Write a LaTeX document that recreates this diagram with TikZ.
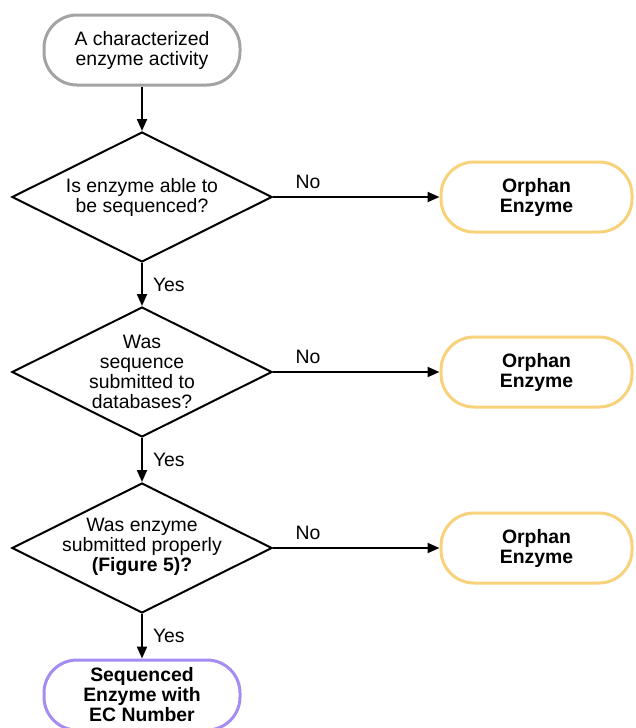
\documentclass[tikz,border=0pt]{standalone}
\usepackage{fontspec}
\setmainfont{Liberation Sans}
\usetikzlibrary{shapes.geometric,arrows.meta}
\definecolor{startgray}{HTML}{A3A3A3}
\definecolor{orphanyellow}{HTML}{F7D27A}
\definecolor{endpurple}{HTML}{A48CF2}

\begin{document}
\begin{tikzpicture}[x=1pt,y=-1pt,
  every node/.style={font=\fontsize{19.4}{20}\selectfont, align=center},
  terminal/.style={draw, line width=3pt, rounded corners=33pt,
    minimum height=70pt, inner sep=0pt},
  decision/.style={draw, shape=diamond, line width=2pt,
    minimum width=260pt, minimum height=130pt, inner sep=0pt},
  question/.style={inner sep=0pt},
  flow/.style={line width=2pt, -{Triangle[length=12pt,width=10pt]}},
  nolab/.style={pos=0.21, anchor=base, yshift=9pt, inner sep=0pt},
  yeslab/.style={pos=0.5, anchor=west, xshift=10pt, inner sep=0pt}]
\useasboundingbox (0,0) rectangle (635,728);

% start and end points
\node[terminal, draw=startgray, minimum width=196pt] (start) at (142,50)
  {A characterized\\enzyme activity};
\node[terminal, draw=endpurple, minimum width=196pt] (finish) at (142,695)
  {\bfseries Sequenced\\\bfseries Enzyme with\\\bfseries EC Number};

% decisions
\node[decision] (d1) at (142,197) {};
\node[question] (q1) at (d1.center) {Is enzyme able to\\be sequenced?};
\node[decision] (d2) at (142,372) {};
\node[question] (q2) at (d2.center) {Was\\sequence\\submitted to\\databases?};
\node[decision] (d3) at (142,548) {};
\node[question] (q3) at ([yshift=1pt]d3.center) {Was enzyme\\submitted properly\\\textbf{(Figure 5)?}};

% orphan outcomes
\node[terminal, draw=orphanyellow, minimum width=191pt] (o1) at (536.5,197)
  {\bfseries Orphan\\\bfseries Enzyme};
\node[terminal, draw=orphanyellow, minimum width=191pt] (o2) at (536.5,372)
  {\bfseries Orphan\\\bfseries Enzyme};
\node[terminal, draw=orphanyellow, minimum width=191pt] (o3) at (536.5,548)
  {\bfseries Orphan\\\bfseries Enzyme};

% connectors
\draw[flow] (start.south) -- (d1.north);
\draw[flow] (d1.east) -- node[nolab] {No} (o1.west);
\draw[flow] (d1.south) -- node[yeslab] {Yes} (d2.north);
\draw[flow] (d2.east) -- node[nolab] {No} (o2.west);
\draw[flow] (d2.south) -- node[yeslab] {Yes} (d3.north);
\draw[flow] (d3.east) -- node[nolab] {No} (o3.west);
\draw[flow] (d3.south) -- node[yeslab] {Yes} (finish.north);
\end{tikzpicture}
\end{document}
